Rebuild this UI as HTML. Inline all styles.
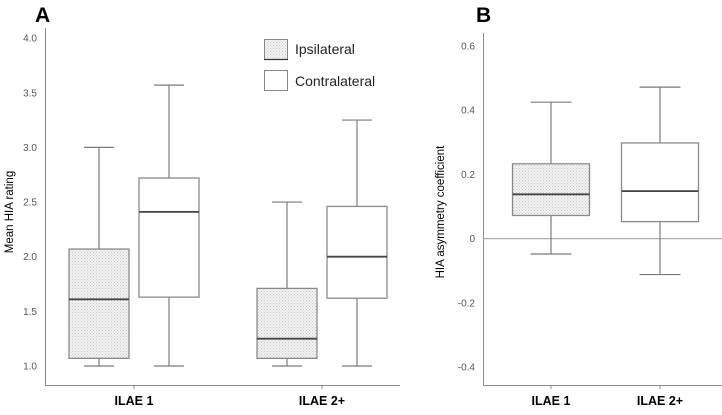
<!DOCTYPE html>
<html><head><meta charset="utf-8"><style>
body{margin:0;background:#fff}
svg text{font-family:"Liberation Sans",sans-serif}
</style></head><body>
<svg id="chart" width="722" height="410" xmlns="http://www.w3.org/2000/svg">
<defs><pattern id="dots" width="3" height="3" patternUnits="userSpaceOnUse"><rect width="3" height="3" fill="#f2f2f2"/><rect width="1" height="1" fill="#c8c8c8"/><rect x="1.5" y="1.5" width="1" height="1" fill="#d4d4d4"/></pattern></defs>
<g id="pa"></g>
<g id="pb"></g>
</svg>
<script>
const NS="http://www.w3.org/2000/svg";
// Panel A data
const aCategories=["ILAE 1","ILAE 2+"];
const aIpsi=[[1.0,1.07,1.61,2.07,3.0],[1.0,1.07,1.25,1.71,2.5]];
const aContra=[[1.0,1.63,2.41,2.72,3.57],[1.0,1.62,2.0,2.46,3.25]];
const aTicks=["1.0","1.5","2.0","2.5","3.0","3.5","4.0"];
// Panel B data
const bCategories=["ILAE 1","ILAE 2+"];
const bBoxes=[[-0.048,0.072,0.138,0.233,0.425],[-0.112,0.053,0.148,0.298,0.472]];
const bTicks=["-0.4","-0.2","0","0.2","0.4","0.6"];

function el(p,t,a,txt){const e=document.createElementNS(NS,t);for(const k in a)e.setAttribute(k,a[k]);if(txt!==undefined)e.textContent=txt;p.appendChild(e);return e;}
const ya=v=>366-(v-1)*109.3;
const yb=v=>367-(v+0.4)*321;

function box(g,cx,w,cw,q,y,fill,name){
  const grp=el(g,'g',{});
  
  
  const s={stroke:'#7a7a7a','stroke-width':1.2};
  el(grp,'line',{x1:cx,x2:cx,y1:y(q[0]),y2:y(q[4]),...s});
  el(grp,'line',{x1:cx-cw/2,x2:cx+cw/2,y1:y(q[0]),y2:y(q[0]),...s});
  el(grp,'line',{x1:cx-cw/2,x2:cx+cw/2,y1:y(q[4]),y2:y(q[4]),...s});
  el(grp,'rect',{x:cx-w/2,y:y(q[3]),width:w,height:y(q[1])-y(q[3]),fill:fill,stroke:'#8a8a8a','stroke-width':1.3});
  el(grp,'line',{x1:cx-w/2,x2:cx+w/2,y1:y(q[2]),y2:y(q[2]),stroke:'#444','stroke-width':1.8});
}

const pa=document.getElementById('pa');
el(pa,'text',{x:35,y:22,'font-size':21,'font-weight':'bold',fill:'#000'},'A');
el(pa,'line',{x1:45.5,x2:45.5,y1:28,y2:385,stroke:'#8a8a8a'});
el(pa,'line',{x1:45,x2:400,y1:385.5,y2:385.5,stroke:'#8a8a8a'});
aTicks.forEach(t=>{const v=parseFloat(t);
  const tx=el(pa,'text',{x:37,y:ya(v)+3.5,'font-size':10,fill:'#555','text-anchor':'end'},t);
  
  });
const at=el(pa,'text',{x:13,y:212,'font-size':11.5,fill:'#000','text-anchor':'middle',transform:'rotate(-90 13 212)'},'Mean HIA rating');


const aCenters=[134,322];
aCategories.forEach((c,i)=>{const cx=aCenters[i];
  el(pa,'line',{x1:cx,x2:cx,y1:385,y2:389,stroke:'#8a8a8a'});
  const lt=el(pa,'text',{x:cx,y:405,'font-size':12.5,'font-weight':'bold',fill:'#000','text-anchor':'middle'},c);
  
  
  box(pa,cx-35,60,30,aIpsi[i],ya,'url(#dots)','box-ipsilateral');
  box(pa,cx+35,60,30,aContra[i],ya,'#fff','box-contralateral');
});
const lg=el(pa,'g',{});


el(lg,'rect',{x:264.5,y:39.5,width:23,height:20,fill:'url(#dots)',stroke:'#888'});
el(lg,'line',{x1:264,x2:288,y1:59.5,y2:59.5,stroke:'#333','stroke-width':1.2});
el(lg,'text',{x:295,y:54,'font-size':14,fill:'#222'},'Ipsilateral');
el(lg,'rect',{x:264.5,y:70.5,width:23,height:20,fill:'#fff',stroke:'#888'});
el(lg,'text',{x:295,y:86,'font-size':14,fill:'#222'},'Contralateral');

const pb=document.getElementById('pb');
el(pb,'text',{x:476,y:22,'font-size':21,'font-weight':'bold',fill:'#000'},'B');
el(pb,'line',{x1:483.5,x2:483.5,y1:33,y2:385,stroke:'#8a8a8a'});
el(pb,'line',{x1:483,x2:722,y1:385.5,y2:385.5,stroke:'#8a8a8a'});
el(pb,'line',{x1:483,x2:722,y1:yb(0),y2:yb(0),stroke:'#aaa','stroke-width':1.2});
bTicks.forEach(t=>{const v=parseFloat(t);
  const tx=el(pb,'text',{x:475,y:yb(v)+3.5,'font-size':10,fill:'#555','text-anchor':'end'},t);
  
  });
const bt=el(pb,'text',{x:444,y:212,'font-size':11.5,fill:'#000','text-anchor':'middle',transform:'rotate(-90 444 212)'},'HIA asymmetry coefficient');


const bCenters=[551,660];
bCategories.forEach((c,i)=>{const cx=bCenters[i];
  el(pb,'line',{x1:cx,x2:cx,y1:385,y2:389,stroke:'#8a8a8a'});
  const lt=el(pb,'text',{x:cx,y:405,'font-size':12.5,'font-weight':'bold',fill:'#000','text-anchor':'middle'},c);
  
  
  box(pb,cx,77,41,bBoxes[i],yb,i==0?'url(#dots)':'#fff','box-asymmetry');
});
</script>
</body></html>
